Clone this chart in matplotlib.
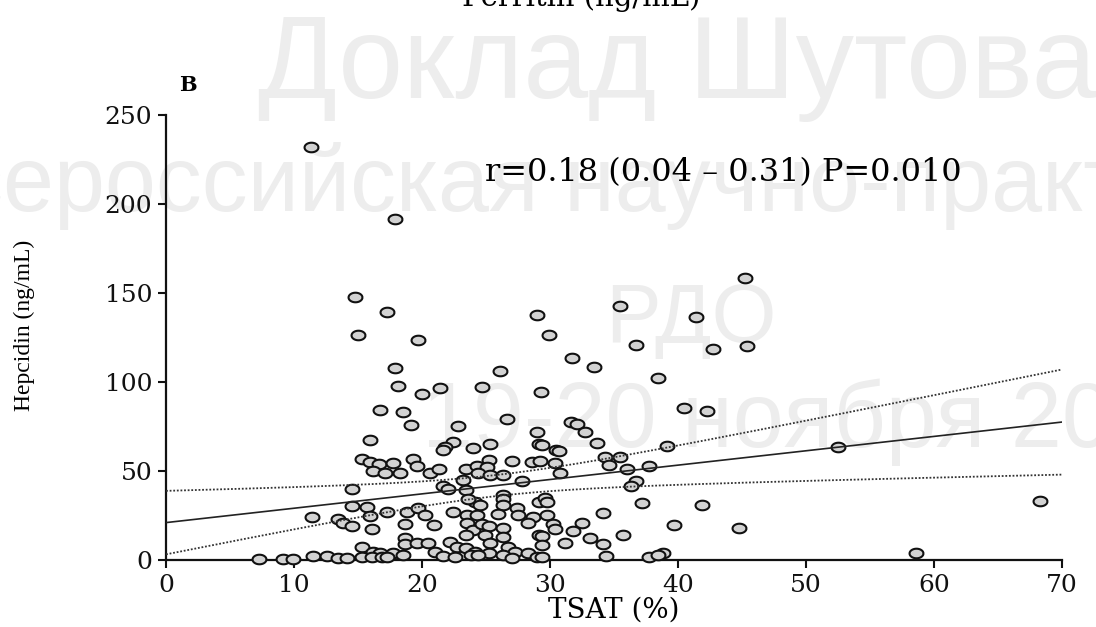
import numpy as np
import matplotlib
matplotlib.use("Agg")
import matplotlib.pyplot as plt

# Valores (TSAT %, hepcidina ng/mL)
tsat = [11.3, 17.9, 14.8, 17.3, 15.0, 19.7, 17.9, 18.1, 20.0, 21.4,
        24.7, 26.1, 29.0, 29.9, 29.3, 31.7, 33.4, 35.5, 36.7, 38.4,
        41.4, 42.7, 45.2, 45.4, 40.5, 42.3, 52.5, 58.6, 68.3,
        16.7, 18.5, 19.1, 22.8, 26.6, 31.6, 32.1, 32.7, 29.0, 15.9,
        22.4, 21.8, 21.6, 24.0, 25.3, 29.1, 33.7, 29.4, 30.5, 30.7,
        39.1, 15.3, 15.9, 16.6, 16.2, 17.1, 17.7, 19.3, 19.6, 18.3,
        20.6, 21.3, 23.4, 24.3, 25.2, 25.1, 27.0, 28.6, 29.2, 30.4,
        24.4, 25.3, 26.3, 30.8, 34.3, 35.5, 34.6, 36.0, 37.7,
        14.5, 14.5, 15.7, 15.9, 17.3, 11.4, 13.4, 13.8, 14.5, 16.1,
        23.2, 21.6, 22.0, 23.4, 24.1, 23.6, 18.8, 19.7, 20.2, 22.4,
        23.5, 18.7, 20.9, 23.5, 24.0, 27.8, 26.3, 26.3, 26.3, 29.1,
        29.6, 24.5, 24.3, 25.9, 27.4, 27.5, 28.7, 29.8, 24.7, 25.2,
        26.3, 28.3, 30.2, 30.4, 36.7, 36.3, 29.8, 37.2, 41.9, 34.1,
        32.5, 31.8, 39.7, 44.8,
        15.3, 16.2, 16.7, 23.4, 18.7, 18.7, 19.6, 20.5, 22.2, 22.7,
        23.4, 21.0, 17.7, 24.9, 26.3, 29.1, 31.2, 25.3, 26.7, 27.3,
        28.3, 25.2, 24.1, 29.4, 35.7, 33.1, 34.1, 29.4, 34.4, 37.7,
        38.8, 38.4,
        7.3, 9.1, 9.9, 11.5, 12.6, 13.4, 14.1, 15.3, 16.1, 16.9,
        17.3, 18.5, 21.6, 22.6, 23.8, 24.4, 26.3, 27.0, 29.0, 29.4]

hepcidin = [232, 191.5, 148, 139.5, 126.5, 123.5, 108, 98, 93.5, 96.5,
            97, 106, 137.5, 126.5, 94.5, 113.5, 108.5, 142.5, 121, 102,
            136.5, 118.5, 158.5, 120, 85.5, 83.5, 63.5, 4, 33,
            84, 83, 76, 75.5, 79, 77.5, 76.5, 72, 72, 67.5,
            66.5, 63.5, 62, 63, 65, 65, 65.5, 64.5, 62, 61.5,
            64, 56.5, 55, 54, 50, 49, 54.5, 57, 53, 49,
            49, 51, 51, 53, 56, 52, 55.5, 55, 55.5, 54.5,
            49, 48, 48, 49, 58, 58, 53.5, 51, 53,
            40, 30.5, 30, 24.7, 27, 24, 23, 21, 19, 17.5,
            45, 41.5, 40, 39.5, 32.5, 34, 27, 29, 25.5, 27,
            25.5, 20, 19.7, 21, 17, 44.5, 36.5, 34, 31, 32.5,
            35, 31, 25.5, 26, 29, 25.5, 24, 25.5, 20, 19,
            18, 21, 20, 17.5, 44.5, 41.5, 32.5, 32, 31, 26.5,
            21, 16.5, 19.7, 18,
            7.3, 4.5, 4, 14, 12.5, 9, 9.6, 9.6, 10, 7.3,
            6.7, 4.5, 4, 14, 13, 14, 9.6, 9.6, 7.3, 4.5,
            4, 4, 4.5, 13.5, 14, 12.5, 9, 8.4, 2.2, 1.7,
            4, 3,
            0.5, 0.5, 0.8, 2.5, 2.5, 1, 1, 1.5, 1.5, 1.5,
            1.5, 2.8, 2.2, 1.7, 2.8, 2.8, 2.8, 1, 1.7, 1.7]

# reta de regressao como aparece na figura
fit_intercept = 21.0
fit_slope = 0.807

x_ticks = [0, 10, 20, 30, 40, 50, 60, 70]
y_ticks = [0, 50, 100, 150, 200, 250]
stats_text = "r=0.18 (0.04 \u2013 0.31) P=0.010"

x = np.array(tsat)
y = np.array(hepcidin)

# IC 95% da media em torno da reta
n = len(x)
resid = y - (fit_intercept + fit_slope * x)
s = np.sqrt(np.sum(resid ** 2) / (n - 2))
sxx = np.sum((x - x.mean()) ** 2)
xs = np.linspace(0, 70, 200)
fit = fit_intercept + fit_slope * xs
half = 1.97 * s * np.sqrt(1 / n + (xs - x.mean()) ** 2 / sxx)

fig = plt.figure(figsize=(10.96, 6.27), dpi=100)
fig.patch.set_facecolor("white")

# marca d'agua
wm = "#ededed"
fig.text(0.235, 1 - 98 / 627, "Доклад Шутова", fontsize=84, color=wm,
         family="Liberation Sans", ha="left", va="baseline", zorder=-5)
fig.text(-0.095, 1 - 211 / 627, "Всероссийская научно-практическая", fontsize=66,
         color=wm, family="Liberation Sans", ha="left", va="baseline", zorder=-5)
fig.text(0.63, 0.49, "РДО", fontsize=60, color=wm, family="Liberation Sans",
         ha="center", va="center", zorder=-5)
fig.text(0.385, 1 - 447 / 627, "19-20 ноября 20", fontsize=66, color=wm,
         family="Liberation Sans", ha="left", va="baseline", zorder=-5)

ax = fig.add_axes([0.1515, 0.1069, 0.8175, 0.7097])
ax.patch.set_alpha(0)

theta = np.linspace(0, 2 * np.pi, 60)
ellipse = np.column_stack([1.45 * np.cos(theta), np.sin(theta)])
ax.plot(x, y, linestyle="none", marker=ellipse, markersize=10,
        markerfacecolor="#d2d2d2", markeredgecolor="#111111", markeredgewidth=1.5,
        clip_on=False, zorder=3)

ax.plot(xs, fit, color="#222222", lw=1.2, zorder=4)
ax.plot(xs, fit + half, color="#333333", lw=1.3, ls=(0, (1.0, 1.0)), zorder=4)
ax.plot(xs, fit - half, color="#333333", lw=1.3, ls=(0, (1.0, 1.0)), zorder=4)

ax.set_xlim(0, 70)
ax.set_ylim(0, 250)
ax.set_xticks(x_ticks)
ax.set_yticks(y_ticks)
for side in ["top", "right"]:
    ax.spines[side].set_visible(False)
for side in ["left", "bottom"]:
    ax.spines[side].set_linewidth(1.6)
    ax.spines[side].set_color("#111111")
ax.tick_params(direction="out", length=6, width=1.5, colors="#111111")
ax.tick_params(axis="x", pad=4)
ax.tick_params(axis="y", pad=4)
for lab in ax.get_xticklabels() + ax.get_yticklabels():
    lab.set_family("DejaVu Serif")
    lab.set_fontsize(18)

ax.set_xlabel("TSAT (%)", family="DejaVu Serif", fontsize=20)
ax.xaxis.set_label_coords(0.5, -0.083)
ax.set_ylabel("Hepcidin (ng/mL)", family="Liberation Serif", fontsize=17)
ax.yaxis.set_label_coords(-0.146, 0.528)

ax.text(24.9, 217.5, stats_text, family="DejaVu Serif", fontsize=23, ha="left", va="center")

fig.text(188 / 1096, 1 - 85 / 627, "B", family="DejaVu Serif", fontweight="bold",
         fontsize=15, ha="center", va="center")
fig.text(0.53, 0.99, "Ferritin (ng/mL)", family="DejaVu Serif", fontsize=21,
         ha="center", va="baseline")

fig.savefig("out.png", dpi=100)
